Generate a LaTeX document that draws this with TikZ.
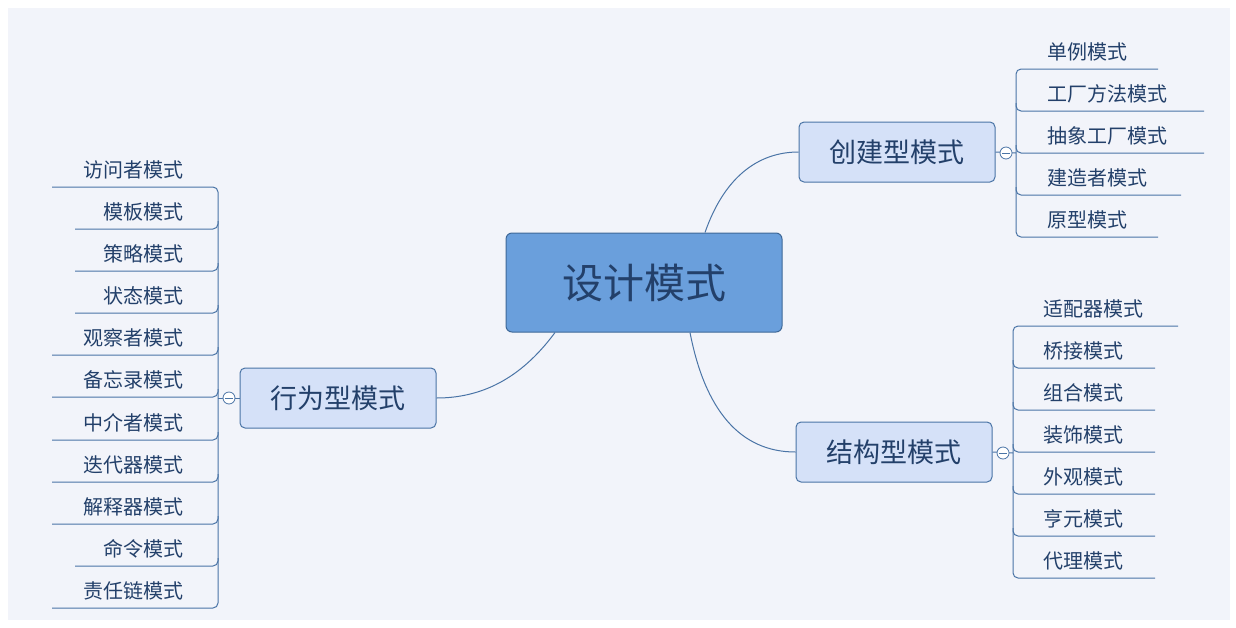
\documentclass[tikz,border=0pt]{standalone}
\usepackage{fontspec}
\setmainfont{Noto Sans CJK SC}
\definecolor{bg}{HTML}{F2F4FA}
\definecolor{ln}{HTML}{4A74A6}
\definecolor{tx}{HTML}{23406A}
\definecolor{cfill}{HTML}{6A9FDC}
\definecolor{cdraw}{HTML}{3E6898}
\definecolor{sfill}{HTML}{D5E1F8}
\tikzset{
 item/.style={font=\fontsize{20}{20}\selectfont, text=tx, inner sep=0pt},
 sub/.style={draw=ln, line width=1pt, fill=sfill, rounded corners=5pt, minimum width=196pt, minimum height=60pt, font=\fontsize{27}{27}\selectfont, text=tx},
 conn/.style={draw=ln, line width=1pt},
 knob/.style={circle, draw=ln, fill=white, line width=0.8pt, minimum size=12pt, inner sep=0pt}
}
\begin{document}
\begin{tikzpicture}[x=1pt,y=-1pt]
\useasboundingbox (0,0) rectangle (1236,627);
\fill[white] (0,0) rectangle (1236,627);
\fill[bg] (8,8) rectangle (1230,620);
% center
\node[draw=cdraw, line width=1pt, fill=cfill, rounded corners=6pt, minimum width=276pt, minimum height=99pt, font=\fontsize{41}{41}\selectfont, text=tx] (c) at (644,282.5) {设计模式};
\node[sub] (cj) at (897,152) {创建型模式};
\node[sub] (jg) at (894,452) {结构型模式};
\node[sub] (xw) at (338,398) {行为型模式};
\draw[conn] ([xshift=61pt]c.north) .. controls (725,175) and (760,152) .. (cj.west);
\draw[conn] ([xshift=46pt]c.south) .. controls (705,410) and (740,452) .. (jg.west);
\draw[conn] ([xshift=-89pt]c.south) .. controls (520,380) and (480,398) .. (xw.east);
% creational
\coordinate (cs) at (1016,153);
\draw[conn] (cj.east) -- (cs);
\foreach \t/\y/\e [count=\i] in {单例模式/69/1158,工厂方法模式/111/1204,抽象工厂模式/153/1204,建造者模式/195/1181,原型模式/237/1158}{
  \node[item, anchor=base west] (cj\i) at (1047,\y-10) {\t};
  \coordinate (cje\i) at (\e,\y);
}
\draw[conn, rounded corners=5pt] (cje1) -| (1016,195) |- (cje5);
\foreach \i in {2,3,4}{\draw[conn, rounded corners=5pt] (1016,{69+42*\i-50}) |- (cje\i);}
\node[knob] (k1) at (1006,153) {}; \draw[ln, line width=0.8pt] (1002,153) -- (1010,153);
% structural
\coordinate (js) at (1013,453);
\draw[conn] (jg.east) -- (js);
\foreach \t/\y/\e [count=\i] in {适配器模式/326/1178,桥接模式/368/1155,组合模式/410/1155,装饰模式/452/1155,外观模式/494/1155,亨元模式/536/1155,代理模式/578/1155}{
  \node[item, anchor=base west] (jg\i) at (1043,\y-10) {\t};
  \coordinate (jge\i) at (\e,\y);
}
\draw[conn, rounded corners=5pt] (jge1) -| (1013,500) |- (jge7);
\foreach \i in {2,...,6}{\draw[conn, rounded corners=5pt] (1013,{326+42*(\i-1)-8}) |- (jge\i);}
\node[knob] (k2) at (1003,453) {}; \draw[ln, line width=0.8pt] (999,453) -- (1007,453);
% behavioral
\draw[conn] (xw.west) -- (218,398);
\foreach \t/\y/\e [count=\i] in {访问者模式/187/52,模板模式/229/75,策略模式/271/75,状态模式/313/75,观察者模式/355/52,备忘录模式/397/52,中介者模式/440/52,迭代器模式/482/52,解释器模式/524/52,命令模式/566/75,责任链模式/608/52}{
  \node[item, anchor=base east] (xw\i) at (184,\y-10) {\t};
  \coordinate (xwe\i) at (\e,\y);
}
\draw[conn, rounded corners=5pt] (xwe1) -| (218,500) |- (xwe11);
\foreach \y/\e [count=\i from 2] in {229/75,271/75,313/75,355/52,397/52,440/52,482/52,524/52,566/75}{\draw[conn, rounded corners=5pt] (218,\y-8) |- (\e,\y);}
\node[knob] (k3) at (229,398) {}; \draw[ln, line width=0.8pt] (225,398) -- (233,398);
\end{tikzpicture}
\end{document}
